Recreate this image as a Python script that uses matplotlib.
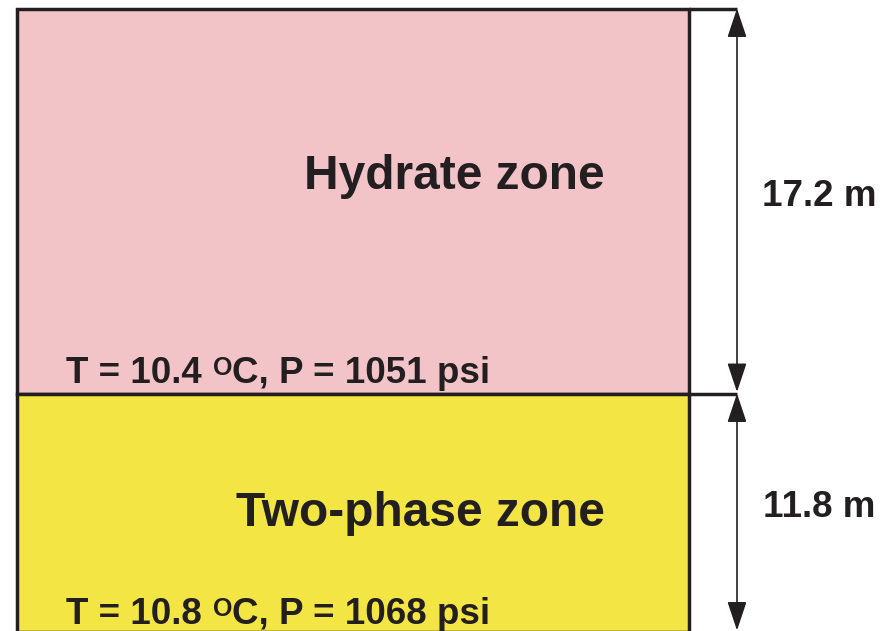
import matplotlib
matplotlib.use('Agg')
import matplotlib.pyplot as plt
from matplotlib.patches import Rectangle

# zone data (top to bottom)
zones = ['Hydrate zone', 'Two-phase zone']
thickness = [17.2, 11.8]  # m
temps = [10.4, 10.8]      # deg C
pressures = [1051, 1068]  # psi
colors = ['#F2C4C7', '#F3E543']

plt.rcParams['font.family'] = ['Liberation Sans', 'DejaVu Sans']
ink = '#231F20'

fig = plt.figure(figsize=(8.92, 6.31), dpi=100)
ax = fig.add_axes([0, 0, 1, 1])
ax.set_xlim(0, 892)
ax.set_ylim(631, 0)
ax.axis('off')

# layout (pixel positions, drawing is not to scale in the original)
edges = [8.5, 393.5, 632]
x0, x1, xa = 17, 688.5, 737
name_base = [189, 526]
dim_base = [206, 517]
t_base = [383, 624]

for i, (name, h, t, p, c) in enumerate(zip(zones, thickness, temps, pressures, colors)):
    top, bot = edges[i], edges[i + 1]
    ax.add_patch(Rectangle((x0, top), x1 - x0, bot - top, facecolor=c,
                           edgecolor=ink, linewidth=2.5))
    ax.plot([x1, xa], [top, top], color=ink, lw=2.5, solid_capstyle='butt')
    ax.annotate('', xy=(xa, top), xytext=(xa, bot - 1.5),
                arrowprops=dict(arrowstyle='<|-|>,head_length=0.6,head_width=0.2',
                                color=ink, lw=1.2, mutation_scale=30,
                                shrinkA=0, shrinkB=0))
    ax.text(819, dim_base[i], f'{h} m', ha='center', va='baseline',
            fontsize=26.5, fontweight='bold', color=ink)
    ax.text(605, name_base[i], name, ha='right', va='baseline',
            fontsize=34.5, fontweight='bold', color=ink)
    # T = .. °C, P = .. psi with a raised "O"
    t1 = ax.text(66, t_base[i], f'T = {t} ', ha='left', va='baseline',
                 fontsize=26.5, fontweight='bold', color=ink)
    t2 = ax.annotate('O', xy=(1, t_base[i]), xycoords=(t1, 'data'),
                     xytext=(0.5, 5.5), textcoords='offset points',
                     ha='left', va='baseline', fontsize=18,
                     fontweight='bold', color=ink)
    ax.annotate(f'C, P = {p} psi', xy=(1, t_base[i]), xycoords=(t2, 'data'),
                ha='left', va='baseline', fontsize=26.5,
                fontweight='bold', color=ink)

fig.savefig('out.png', dpi=100)
